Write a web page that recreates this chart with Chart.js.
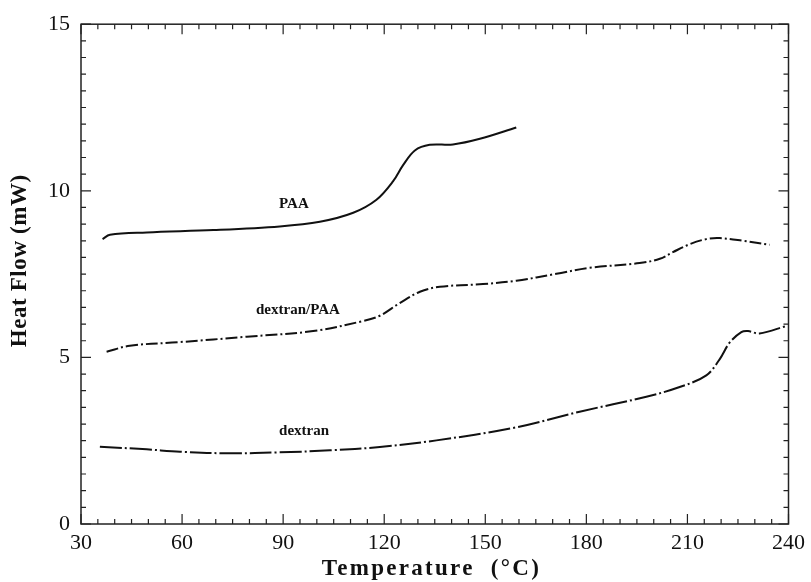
<!DOCTYPE html>
<html>
<head>
<meta charset="utf-8">
<script src="https://cdn.jsdelivr.net/npm/chart.js@4"></script>
<style>
  html, body { margin: 0; padding: 0; background: #fff; }
  #wrap { width: 811px; height: 582px; }
</style>
</head>
<body>
<div id="wrap"><canvas id="dsc" width="811" height="582"></canvas></div>
<script>
// DSC thermograms
const paaT = [36.4, 38.6, 49.5, 69.3, 89, 100.9, 110.8, 117.7, 122.6, 125.6, 129.1, 133.5, 140.4, 148.4, 159.2];
const paaHF = [8.55, 8.68, 8.75, 8.82, 8.93, 9.07, 9.34, 9.73, 10.28, 10.77, 11.21, 11.38, 11.39, 11.56, 11.9];

const blendT = [37.6, 44.5, 59.4, 79.2, 98.9, 113.7, 118.7, 124.6, 130.6, 136.5, 149.3, 159.2, 171.1, 181, 195.8, 201.8, 205.7, 210.7, 215.6, 219.6, 226.5, 234.4];
const blendHF = [5.17, 5.35, 5.46, 5.62, 5.79, 6.09, 6.25, 6.63, 6.97, 7.12, 7.2, 7.3, 7.51, 7.69, 7.83, 7.96, 8.16, 8.4, 8.55, 8.58, 8.5, 8.38];

const dexT = [35.6, 49.5, 59.4, 74.2, 89, 103.9, 118.7, 135.5, 158.2, 178, 197.8, 207.7, 215.6, 219.6, 222.5, 226, 228, 231.4, 239.3];
const dexHF = [2.32, 2.24, 2.17, 2.12, 2.15, 2.21, 2.31, 2.51, 2.88, 3.37, 3.82, 4.11, 4.46, 4.95, 5.44, 5.76, 5.79, 5.72, 5.94];

const curveNames = ["PAA", "dextran/PAA", "dextran"];
const labelT = [93.2, 94.4, 96.2];
const labelHF = [9.59, 6.42, 2.78];

const xTicks = [30, 60, 90, 120, 150, 180, 210, 240];
const yTicks = [0, 5, 10, 15];
const xTitle = "Temperature  (°C)";
const yTitle = "Heat Flow (mW)";

const serif = "'Liberation Serif', 'Times New Roman', serif";

function pts(xs, ys) {
    return xs.map((x, i) => ({ x: x, y: ys[i] }));
}

// inward ticks on all four sides, frame, axis titles and curve labels
const framePlugin = {
    id: "frame",
    afterDraw(chart) {
        const ctx = chart.ctx;
        const a = chart.chartArea;
        const xs = chart.scales.x, ys = chart.scales.y;
        ctx.save();
        ctx.strokeStyle = "#222";
        ctx.lineWidth = 1.5;
        ctx.strokeRect(a.left, a.top, a.right - a.left, a.bottom - a.top);
        ctx.lineWidth = 1.2;
        xs.ticks.forEach(t => {
            const px = xs.getPixelForValue(t.value);
            const len = xTicks.includes(t.value) ? 10 : 5;
            ctx.beginPath();
            ctx.moveTo(px, a.bottom); ctx.lineTo(px, a.bottom - len);
            ctx.moveTo(px, a.top); ctx.lineTo(px, a.top + len);
            ctx.stroke();
        });
        ys.ticks.forEach(t => {
            const py = ys.getPixelForValue(t.value);
            const len = yTicks.includes(t.value) ? 10 : 5;
            ctx.beginPath();
            ctx.moveTo(a.left, py); ctx.lineTo(a.left + len, py);
            ctx.moveTo(a.right, py); ctx.lineTo(a.right - len, py);
            ctx.stroke();
        });
        ctx.fillStyle = "#111";
        ctx.textAlign = "center";
        ctx.textBaseline = "middle";
        ctx.font = "bold 15px " + serif;
        curveNames.forEach((n, i) => {
            ctx.fillText(n, xs.getPixelForValue(labelT[i]), ys.getPixelForValue(labelHF[i]));
        });
        // axis titles
        ctx.font = "bold 23px " + serif;
        ctx.letterSpacing = "2.3px";
        ctx.fillText(xTitle, xs.getPixelForValue(134), 569);
        ctx.letterSpacing = "0.6px";
        ctx.translate(20, ys.getPixelForValue(7.9));
        ctx.rotate(-Math.PI / 2);
        ctx.fillText(yTitle, 0, 0);
        ctx.restore();
    }
};

new Chart(document.getElementById("dsc"), {
    type: "line",
    data: {
        datasets: [
            { label: "PAA", data: pts(paaT, paaHF), borderColor: "#111", borderWidth: 2, pointRadius: 0, tension: 0.35, fill: false },
            { label: "dextran/PAA", data: pts(blendT, blendHF), borderColor: "#111", borderWidth: 2, borderDash: [12, 3, 2, 3], pointRadius: 0, tension: 0.35, fill: false },
            { label: "dextran", data: pts(dexT, dexHF), borderColor: "#111", borderWidth: 2, borderDash: [22, 3, 2, 3], pointRadius: 0, tension: 0.35, fill: false }
        ]
    },
    options: {
        responsive: false,
        animation: false,
        layout: { padding: { left: 0, right: 22, top: 17, bottom: 2 } },
        plugins: { legend: { display: false }, tooltip: { enabled: false } },
        scales: {
            x: {
                type: "linear", min: 30, max: 240,
                grid: { display: false, drawTicks: false },
                border: { display: false },
                ticks: {
                    stepSize: 5, autoSkip: false, maxRotation: 0, padding: 6,
                    color: "#111", font: { family: serif, size: 22 },
                    callback: v => xTicks.includes(v) ? String(v) : ""
                },
                afterFit: s => { s.height = 56; }
            },
            y: {
                type: "linear", min: 0, max: 15,
                grid: { display: false, drawTicks: false },
                border: { display: false },
                ticks: {
                    stepSize: 0.5, autoSkip: false, padding: 11,
                    color: "#111", font: { family: serif, size: 22 },
                    callback: v => yTicks.includes(v) ? String(v) : ""
                },
                afterFit: s => { s.width = 81; }
            }
        }
    },
    plugins: [framePlugin]
});
</script>
</body>
</html>
